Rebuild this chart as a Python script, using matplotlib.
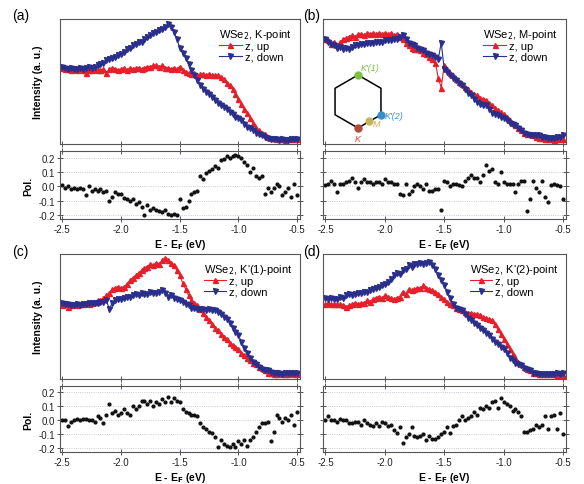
import numpy as np
import matplotlib
matplotlib.use("Agg")
import matplotlib.pyplot as plt

plt.rcParams['font.family'] = ['Liberation Sans', 'DejaVu Sans']

# energy grid E - E_F (eV), same for every panel
energy = np.linspace(-2.5, -0.5, 81)

# intensity (a. u.), 0 = bottom of the frame, 100 = top
k_up = [61, 60, 60, 59, 60, 59, 60, 59, 57, 59, 59, 60, 59, 59, 60, 57, 60, 61, 60, 59,
        60, 61, 59, 61, 60, 61, 61, 60, 61, 62, 62, 63, 63, 62, 63, 61, 61, 60, 61, 60,
        62, 59, 58, 57, 56, 57, 55, 56, 56, 55, 56, 55, 55, 55, 54, 52, 49, 47, 44, 40,
        36, 32, 28, 25, 21, 17, 13, 11, 9, 8, 6, 5, 5, 4, 4, 4, 3, 4, 4, 4, 4]
k_down = [62, 61, 60, 61, 60, 60, 61, 60, 61, 62, 61, 62, 63, 64, 65, 67, 68, 69, 70, 71,
          72, 74, 76, 77, 79, 80, 82, 82, 84, 86, 87, 89, 90, 91, 92, 94, 96, 94, 90, 84,
          77, 73, 69, 64, 59, 55, 51, 47, 44, 42, 40, 38, 35, 33, 31, 30, 28, 26, 24, 22,
          21, 19, 16, 14, 13, 11, 9, 8, 7, 6, 5, 4, 4, 4, 3, 4, 3, 3, 4, 4, 4]

m_up = [84, 83, 80, 82, 79, 82, 84, 85, 86, 87, 86, 88, 88, 87, 89, 88, 89, 88, 89, 88,
        89, 88, 89, 87, 88, 86, 84, 81, 79, 77, 76, 76, 75, 73, 72, 70, 68, 65, 53, 45,
        63, 60, 57, 55, 52, 50, 48, 46, 44, 42, 40, 39, 37, 36, 35, 33, 31, 29, 27, 26,
        24, 22, 19, 17, 15, 13, 11, 9, 8, 8, 7, 6, 5, 5, 4, 4, 4, 3, 4, 4, 4]
m_down = [84, 82, 80, 79, 77, 78, 76, 77, 76, 78, 79, 79, 80, 80, 81, 81, 81, 82, 82, 82,
          83, 83, 83, 84, 84, 86, 87, 84, 81, 80, 79, 77, 76, 75, 73, 72, 71, 70, 68, 81,
          60, 58, 55, 53, 51, 49, 47, 44, 41, 39, 36, 34, 32, 31, 31, 28, 25, 24, 23, 22,
          21, 19, 17, 16, 15, 13, 11, 9, 8, 7, 7, 7, 7, 6, 6, 5, 5, 5, 6, 6, 7]

k1_up = [59, 60, 58, 59, 60, 59, 60, 60, 61, 60, 61, 62, 63, 63, 65, 67, 69, 72, 73, 74,
         73, 74, 76, 79, 81, 83, 85, 87, 89, 90, 92, 91, 93, 92, 95, 97, 95, 93, 91, 87,
         83, 77, 72, 67, 63, 61, 59, 56, 53, 50, 47, 44, 41, 39, 36, 34, 32, 29, 27, 26,
         24, 21, 19, 17, 15, 13, 12, 10, 9, 7, 5, 5, 4, 4, 5, 4, 4, 4, 5, 4, 4]
k1_down = [61, 60, 60, 59, 59, 60, 59, 60, 60, 61, 61, 61, 61, 62, 62, 63, 56, 61, 63, 64,
           64, 65, 66, 66, 67, 68, 67, 69, 68, 68, 70, 69, 69, 70, 71, 69, 66, 67, 65, 64,
           63, 62, 60, 59, 57, 57, 56, 56, 56, 55, 56, 55, 55, 54, 52, 50, 48, 45, 41, 38,
           35, 30, 25, 21, 17, 14, 12, 10, 8, 7, 7, 6, 5, 5, 5, 4, 5, 5, 5, 5, 5]

k2_up = [60, 61, 60, 60, 60, 60, 59, 58, 59, 60, 61, 60, 61, 61, 63, 62, 64, 65, 66, 65,
         67, 66, 65, 64, 65, 66, 70, 68, 72, 71, 72, 73, 73, 75, 73, 72, 71, 70, 68, 66,
         64, 62, 60, 59, 57, 56, 55, 54, 53, 53, 52, 52, 51, 50, 49, 48, 47, 44, 40, 36,
         32, 28, 24, 20, 17, 14, 12, 10, 8, 7, 5, 5, 4, 4, 4, 4, 4, 4, 3, 4, 3]
k2_down = [65, 64, 65, 64, 64, 66, 65, 67, 68, 67, 68, 69, 69, 70, 70, 71, 72, 73, 74, 75,
           76, 78, 80, 83, 85, 84, 87, 88, 91, 90, 92, 92, 93, 92, 93, 94, 91, 88, 83, 79,
           75, 70, 65, 60, 57, 56, 55, 52, 49, 47, 45, 43, 41, 39, 37, 35, 32, 30, 28, 26,
           24, 21, 17, 15, 13, 12, 11, 9, 8, 7, 5, 5, 4, 4, 4, 4, 4, 4, 5, 4, 5]

# spin polarization
k_pol = [0.01, -0.01, 0.0, -0.02, -0.01, -0.02, -0.01, -0.02, -0.06, 0.0, -0.03, -0.02,
         -0.03, -0.02, -0.04, -0.03, -0.1, -0.07, -0.04, -0.05, -0.05, -0.08, -0.09, -0.1,
         -0.09, -0.12, -0.11, -0.14, -0.2, -0.13, -0.16, -0.15, -0.16, -0.17, -0.18, -0.16,
         -0.19, -0.2, -0.19, -0.2, -0.09, -0.15, -0.14, -0.1, -0.05, -0.04, -0.03, 0.07,
         0.05, 0.09, 0.11, 0.12, 0.14, 0.13, 0.18, 0.19, 0.21, 0.2, 0.21, 0.22, 0.21, 0.2,
         0.17, 0.15, 0.1, 0.13, 0.07, 0.06, 0.07, -0.05, -0.01, -0.04, -0.01, 0.02, 0.0,
         -0.06, -0.04, -0.01, -0.07, 0.02, -0.06]
m_pol = [0.01, 0.02, 0.04, 0.02, -0.04, 0.02, 0.02, 0.03, 0.04, 0.06, 0.03, -0.01, 0.03,
         0.05, 0.03, 0.03, 0.02, 0.03, 0.03, 0.02, 0.05, 0.03, 0.03, 0.02, 0.02, -0.05,
         -0.06, 0.02, -0.05, -0.03, 0.0, 0.02, 0.0, -0.02, 0.02, -0.03, -0.03, -0.02, -0.02,
         -0.16, 0.04, 0.03, 0.0, 0.02, 0.02, 0.01, 0.0, 0.04, 0.06, 0.08, 0.06, 0.06, 0.03,
         0.08, 0.15, 0.11, 0.12, 0.03, 0.02, 0.1, 0.03, 0.02, 0.02, 0.02, -0.04, 0.02, 0.04,
         0.04, -0.17, -0.09, 0.04, -0.01, -0.04, 0.04, -0.07, -0.11, 0.01, 0.02, 0.01, 0.0,
         -0.09]
k1_pol = [0.0, 0.0, -0.04, -0.01, 0.0, 0.01, 0.0, 0.01, 0.01, 0.0, 0.0, -0.01, 0.03, 0.02,
          -0.02, 0.04, 0.12, 0.05, 0.07, 0.04, 0.05, 0.08, 0.05, 0.04, 0.1, 0.08, 0.1, 0.14,
          0.14, 0.12, 0.14, 0.1, 0.13, 0.12, 0.15, 0.13, 0.17, 0.13, 0.16, 0.14, 0.13, 0.08,
          0.06, 0.05, 0.04, 0.04, 0.03, -0.02, -0.05, -0.06, -0.08, -0.09, -0.12, -0.19,
          -0.14, -0.17, -0.18, -0.19, -0.17, -0.19, -0.15, -0.17, -0.14, -0.18, -0.14, -0.12,
          -0.08, -0.05, -0.02, -0.02, -0.01, -0.15, -0.08, 0.04, 0.02, -0.01, 0.02, 0.0,
          0.04, -0.03, 0.06]
k2_pol = [0.0, 0.03, 0.0, 0.0, -0.01, 0.01, 0.0, 0.0, -0.02, -0.02, -0.01, -0.01, -0.03,
          0.0, -0.02, -0.03, -0.04, -0.02, -0.04, -0.01, -0.02, -0.04, -0.03, -0.07, -0.09,
          -0.05, -0.16, -0.12, -0.1, -0.05, -0.11, -0.12, -0.11, -0.1, -0.14, -0.11, -0.13,
          -0.13, -0.12, -0.1, -0.08, -0.05, -0.09, -0.04, -0.03, 0.0, 0.03, 0.0, 0.02, 0.03,
          0.06, 0.04, 0.09, 0.08, 0.1, 0.09, 0.13, 0.14, 0.09, 0.16, 0.13, 0.12, 0.1, 0.07,
          0.08, 0.06, 0.03, -0.08, -0.08, -0.07, -0.06, -0.03, -0.05, -0.03, 0.03, -0.06,
          0.03, 0.04, -0.06, 0.05, -0.1]

panels = [
    ("(a)", "K-point", k_up, k_down, k_pol),
    ("(b)", "M-point", m_up, m_down, m_pol),
    ("(c)", "K'(1)-point", k1_up, k1_down, k1_pol),
    ("(d)", "K'(2)-point", k2_up, k2_down, k2_pol),
]

RED = '#e5202b'
BLUE = '#2a2f8c'
FRAME = '#555555'

W, H = 584, 485
fig = plt.figure(figsize=(W / 100, H / 100), dpi=100)


def px_box(left, top, right, bottom):
    """convert a pixel box of the picture into figure fractions"""
    return [left / W, 1 - bottom / H, (right - left) / W, (bottom - top) / H]


def style_frame(ax):
    for sp in ax.spines.values():
        sp.set_color(FRAME)
        sp.set_linewidth(0.8)
    ax.set_xlim(-2.52, -0.475)
    ax.set_xticks([-2.5, -2.0, -1.5, -1.0, -0.5])
    ax.tick_params(colors=FRAME, labelcolor='#222222', labelsize=7, length=4,
                   width=0.7, direction='inout', pad=1.5)


# pixel columns / rows of the frames, and where the panel tags sit
columns = [(60, 300), (323, 566)]
rows = [(20, 145, 152, 220), (255, 380, 387, 453)]
tag_x = [12, 303]
tag_y = [16, 252]

for n, (tag, point, up, down, pol) in enumerate(panels):
    left, right = columns[n % 2]
    top, mid, top2, bottom = rows[n // 2]

    # upper frame: intensities
    ax = fig.add_axes(px_box(left, top, right, mid))
    ax.plot(energy, up, color=RED, marker='^', ms=3.6, lw=0.8, label='z, up')
    ax.plot(energy, down, color=BLUE, marker='v', ms=3.6, lw=0.8, label='z, down')
    style_frame(ax)
    ax.set_ylim(0, 100)
    ax.set_yticks([])
    ax.tick_params(labelbottom=False)
    ax.legend(title='WSe$_2$, ' + point, loc='upper right', fontsize=8,
              title_fontsize=8, frameon=False, handlelength=2.0,
              handletextpad=0.3, labelspacing=0.05, borderaxespad=0.3,
              alignment='left')
    if n % 2 == 0:
        ax.set_ylabel('Intensity (a. u.)', fontsize=7.5, fontweight='bold', labelpad=12)

    # lower frame: polarization
    bx = fig.add_axes(px_box(left, top2, right, bottom))
    bx.plot(energy, pol, 'o', color='#111111', ms=2.0)
    style_frame(bx)
    bx.set_ylim(-0.225, 0.245)
    bx.set_yticks([-0.2, -0.1, 0.0, 0.1, 0.2])
    bx.grid(axis='y', ls=':', lw=0.6, color='#b8bccc')
    bx.tick_params(top=True, right=True)
    bx.set_xticklabels(['-2.5', '-2.0', '-1.5', '-1.0', '-0.5'])
    bx.set_xlabel('E - E$_\\mathbf{F}$ (eV)', fontsize=7.5, fontweight='bold', labelpad=2)
    if n % 2 == 0:
        bx.set_yticklabels(['-0.2', '-0.1', '0.0', '0.1', '0.2'])
        bx.set_ylabel('Pol.', fontsize=7.5, fontweight='bold', labelpad=4)
    else:
        bx.tick_params(labelleft=False)

    fig.text(tag_x[n % 2] / W, 1 - tag_y[n // 2] / H, tag, fontsize=10,
             va='center', ha='left')

# Brillouin zone sketch inside panel (b)
hx = fig.add_axes(px_box(320, 50, 420, 150))
hx.set_xlim(-38, 62)
hx.set_ylim(-47.5, 52.5)
hx.axis('off')
ang = np.deg2rad(np.arange(90, 451, 60))
r = 26.5
hx.plot(r * np.cos(ang), r * np.sin(ang), color='black', lw=1.1)
k1 = (r * np.cos(ang[0]), r * np.sin(ang[0]))
k2 = (r * np.cos(ang[4]), r * np.sin(ang[4]))
kk = (r * np.cos(ang[3]), r * np.sin(ang[3]))
mm = ((k2[0] + kk[0]) / 2, (k2[1] + kk[1]) / 2)
for (x, y), c in [(k1, '#7cc242'), (k2, '#3b8fc8'), (kk, '#b04a3a'), (mm, '#c7b35a')]:
    hx.plot(x, y, 'o', color=c, ms=5)
hx.text(k1[0] + 3, k1[1] + 5, "K'(1)", color='#7cc242', fontsize=6.5, style='italic')
hx.text(k2[0] + 4, k2[1] - 3, "K'(2)", color='#3b8fc8', fontsize=6.5, style='italic')
hx.text(mm[0] + 3, mm[1] - 5, 'M', color='#c7b35a', fontsize=6.5, style='italic')
hx.text(kk[0], kk[1] - 6, 'K', color='#d9443a', fontsize=6.5, style='italic',
        ha='center', va='top')

fig.savefig('out.png', dpi=100)
